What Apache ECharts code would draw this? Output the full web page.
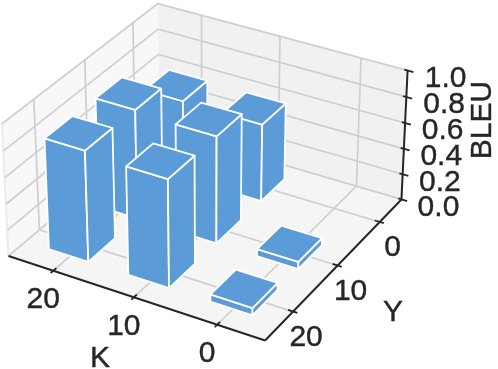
<!DOCTYPE html>
<html><head><meta charset="utf-8">
<style>html,body{margin:0;padding:0;background:#fff}#c{width:498px;height:369px}</style>
<script src="https://cdn.jsdelivr.net/npm/echarts@6/dist/echarts.min.js"></script>
</head><body><div id="c"></div>
<script>
const kTicks = [0, 10, 20];
const yTicks = [0, 10, 20];
const zTicks = [0, 0.2, 0.4, 0.6, 0.8, 1.0];
const bleuAtY0 = [0, 0.6, 0.605];
const bleuAtY10 = [0.055, 0.82, 0.84];
const bleuAtY20 = [0.055, 0.82, 0.845];
const barWidth = 5, barDepth = 5.4, barShift = 0.2, kLim = [-5.6, 25.7], yLim = [-5.4, 26], zLim = [0, 1];

// camera
const EL = 31 * Math.PI / 180, AZ = 120 * Math.PI / 180, DIST = 10;
const SIZE = 1.19, ZSIZE = 0.62, SCALE = 2455, CX = 208.6, CY = 163;
const e = [Math.cos(EL) * Math.cos(AZ), Math.cos(EL) * Math.sin(AZ), Math.sin(EL)];
const r = [-Math.sin(AZ), Math.cos(AZ), 0];
const u = [-Math.sin(EL) * Math.cos(AZ), -Math.sin(EL) * Math.sin(AZ), Math.cos(EL)];
const dot = (a, b) => a[0] * b[0] + a[1] * b[1] + a[2] * b[2];
function world(k, y, z) {
  return [((k - kLim[0]) / (kLim[1] - kLim[0]) - .5) * SIZE,
          ((y - yLim[0]) / (yLim[1] - yLim[0]) - .5) * SIZE,
          ((z - zLim[0]) / (zLim[1] - zLim[0]) - .5) * ZSIZE];
}
function P(k, y, z) {
  const p = world(k, y, z), d = DIST - dot(p, e);
  return [CX + SCALE * dot(p, r) / d, CY - SCALE * dot(p, u) / d];
}
const depth = (k, y, z) => DIST - dot(world(k, y, z), e);

const [k0, k1] = kLim, [y0, y1] = yLim, [z0, z1] = zLim;
const GRID = '#cfcfcf', INK = '#262626', BLUE = '#5b9bd7';
const FONT = '"Liberation Sans", Arial, sans-serif', FS = 30;

// scene pieces -----------------------------------------------------
const poly = (pts, fill) => ({type: 'polygon', shape: {points: pts}, style: {fill, stroke: null}});
const line = (a, b, color, w) => ({type: 'line', shape: {x1: a[0], y1: a[1], x2: b[0], y2: b[1]},
  style: {stroke: color, lineWidth: w, fill: null, lineCap: 'butt'}});
const polyline = (pts, color, w) => ({type: 'polyline', shape: {points: pts},
  style: {stroke: color, lineWidth: w, fill: null, lineJoin: 'miter'}});
const text = (t, x, y, rot) => ({type: 'text', x, y, rotation: rot || 0,
  style: {text: t, fill: INK, stroke: INK, lineWidth: 0.4, font: FS + 'px ' + FONT, align: 'center', verticalAlign: 'middle'}});

function paneChildren() {
  const c = [];
  c.push(poly([P(k1, y0, z0), P(k1, y1, z0), P(k1, y1, z1), P(k1, y0, z1)], '#f8f8f8'));
  c.push(poly([P(k0, y0, z0), P(k1, y0, z0), P(k1, y0, z1), P(k0, y0, z1)], '#f1f1f1'));
  c.push(poly([P(k0, y0, z0), P(k1, y0, z0), P(k1, y1, z0), P(k0, y1, z0)], '#f5f5f5'));
  c.push(polyline([P(k1, y1, z0), P(k1, y1, z1), P(k1, y0, z1), P(k0, y0, z1)], '#ececec', 2));
  kTicks.forEach(k => c.push(polyline([P(k, y1, z0), P(k, y0, z0), P(k, y0, z1)], GRID, 1.7)));
  yTicks.forEach(y => c.push(polyline([P(k0, y, z0), P(k1, y, z0), P(k1, y, z1)], GRID, 1.7)));
  zTicks.forEach(z => c.push(polyline([P(k1, y1, z), P(k1, y0, z), P(k0, y0, z)], GRID, 1.7)));
  return c;
}
function axisChildren() {
  const c = [];
  c.push(line(P(k0, y1, z0), P(k1, y1, z0), INK, 2));
  c.push(line(P(k0, y1, z0), P(k0, y0, z0), INK, 2));
  c.push(line(P(k0, y0, z0), P(k0, y0, z1), INK, 2));
  kTicks.forEach(k => {
    c.push(line(P(k, y1 - .6, z0), P(k, y1 + .5, z0), INK, 1.8));
    const p = P(k, y1, z0); c.push(text(String(k), p[0] - 10, p[1] + 29));
  });
  yTicks.forEach(y => {
    c.push(line(P(k0 + .6, y, z0), P(k0 - .5, y, z0), INK, 1.8));
    const p = P(k0, y, z0); c.push(text(String(y), p[0] + 13, p[1] + 26));
  });
  zTicks.forEach(z => {
    c.push(line(P(k0 + .4, y0, z), P(k0 - .7, y0, z), INK, 1.8));
    const p = P(k0, y0, z); c.push(text(z.toFixed(1), p[0] + 37 + z, p[1] + 8));
  });
  c.push(text('K', 100, 359));
  c.push(text('Y', 393, 313));
  c.push(text('BLEU', 483, 120, Math.PI / 2));
  return c;
}

// bars, far ones first
const barRows = [[yTicks[0], bleuAtY0], [yTicks[1], bleuAtY10], [yTicks[2], bleuAtY20]];
const barData = [];
barRows.forEach(([y, vals]) => vals.forEach((v, i) => { if (v > 0) barData.push([kTicks[i], y, v]); }));
barData.sort((a, b) => depth(b[0], b[1], 0) - depth(a[0], a[1], 0));

function renderBar(params, api) {
  const k = api.value(0) + barShift, y = api.value(1), v = api.value(2);
  const a = k - barWidth / 2, b = k + barWidth / 2, c = y - barDepth / 2, d = y + barDepth / 2;
  const face = pts => ({type: 'polygon', shape: {points: pts},
    style: {fill: BLUE, stroke: '#fff', lineWidth: 1.8, lineJoin: 'round'}});
  return {type: 'group', children: [
    face([P(b, d, 0), P(a, d, 0), P(a, d, v), P(b, d, v)]),
    face([P(a, d, 0), P(a, c, 0), P(a, c, v), P(a, d, v)]),
    face([P(a, c, v), P(b, c, v), P(b, d, v), P(a, d, v)])
  ]};
}

const chart = echarts.init(document.getElementById('c'), null, {renderer: 'canvas'});
chart.setOption({
  animation: false,
  backgroundColor: '#fff',
  series: [
    {type: 'custom', coordinateSystem: 'none', silent: true, z: 1, data: [0],
     renderItem: () => ({type: 'group', children: paneChildren()})},
    {type: 'custom', coordinateSystem: 'none', silent: true, z: 2, data: barData,
     encode: {}, dimensions: ['k', 'y', 'bleu'], renderItem: renderBar},
    {type: 'custom', coordinateSystem: 'none', silent: true, z: 3, data: [0],
     renderItem: () => ({type: 'group', children: axisChildren()})}
  ]
});
</script></body></html>
